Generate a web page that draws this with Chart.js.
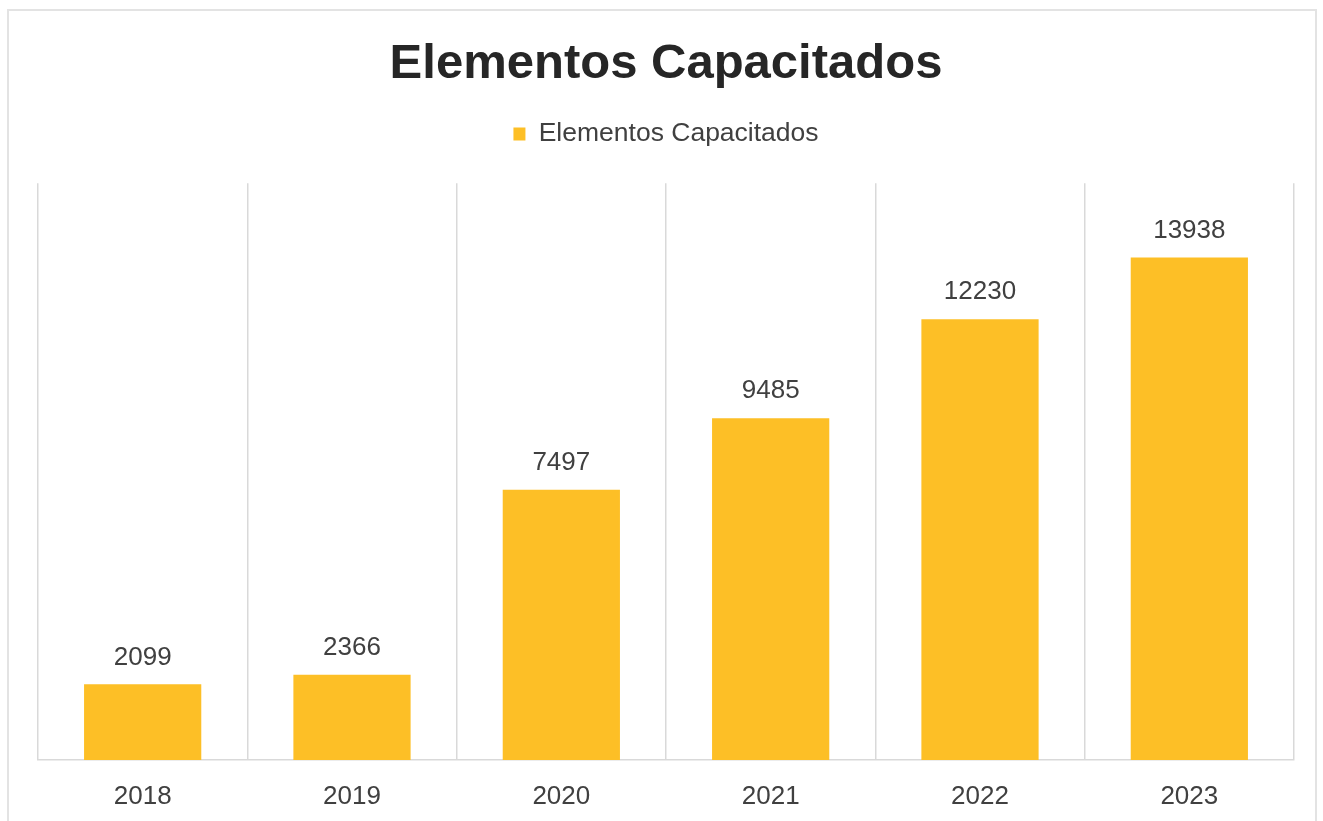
<!DOCTYPE html>
<html>
<head>
<meta charset="utf-8">
<title>Elementos Capacitados</title>
<script src="https://cdn.jsdelivr.net/npm/chart.js@4"></script>
<style>
  html, body { margin: 0; padding: 0; background: #fff; overflow: hidden; }
  #frame {
    position: absolute; left: 7px; top: 9px; width: 1310px; height: 812px;
    border: 2px solid #e3e3e3; border-bottom: none; box-sizing: border-box;
  }
  #chart { position: absolute; left: 0; top: 0; }
</style>
</head>
<body>
<div id="frame"></div>
<canvas id="chart" width="1323" height="821"></canvas>
<script>
(() => {
  "use strict";

  // Data
  const years  = ["2018", "2019", "2020", "2021", "2022", "2023"];
  const trained = [2099, 2366, 7497, 9485, 12230, 13938];
  const seriesName = "Elementos Capacitados";

  const FONT = "'Liberation Sans', Arial, sans-serif";
  const BAR = "#FDBF26";
  const TEXT = "#404040";

  // value labels above each bar
  const valueLabels = {
    id: "valueLabels",
    afterDatasetsDraw(chart) {
      const { ctx } = chart;
      const meta = chart.getDatasetMeta(0);
      ctx.save();
      ctx.font = `26px ${FONT}`;
      ctx.fillStyle = TEXT;
      ctx.textAlign = "center";
      ctx.textBaseline = "middle";
      meta.data.forEach((bar, i) => {
        ctx.fillText(String(trained[i]), bar.x, bar.y - 27);
      });
      ctx.restore();
    }
  };

  // extra room under the legend
  const legendGap = {
    id: "legendGap",
    beforeInit(chart) {
      const fit = chart.legend.fit;
      chart.legend.fit = function () {
        fit.call(this);
        this.height += 26;
      };
    }
  };

  const ctx = document.getElementById("chart").getContext("2d");
  new Chart(ctx, {
    type: "bar",
    data: {
      labels: years,
      datasets: [{
        label: seriesName,
        data: trained,
        backgroundColor: BAR,
        borderWidth: 0,
        barPercentage: 0.56,
        categoryPercentage: 1
      }]
    },
    options: {
      responsive: false,
      animation: false,
      layout: { padding: { left: 38, right: 29, top: 0, bottom: 9 } },
      plugins: {
        title: {
          display: true,
          text: seriesName,
          color: "#262626",
          font: { family: FONT, size: 49, weight: "bold" },
          padding: { top: 35, bottom: 17 }
        },
        legend: {
          display: true,
          labels: {
            color: TEXT,
            font: { family: FONT, size: 26.5 },
            boxWidth: 12,
            boxHeight: 13,
            padding: 10
          }
        },
        tooltip: { enabled: false }
      },
      scales: {
        x: {
          grid: { offset: true, color: "#d9d9d9", lineWidth: 1.5, drawTicks: false },
          border: { color: "#d9d9d9", width: 1.5 },
          ticks: { color: TEXT, font: { family: FONT, size: 26 }, padding: 21 },
          afterFit: (scale) => { scale.height = 52; }
        },
        y: {
          display: false,
          min: 0,
          max: 16000
        }
      }
    },
    plugins: [valueLabels, legendGap]
  });
})();
</script>
</body>
</html>
